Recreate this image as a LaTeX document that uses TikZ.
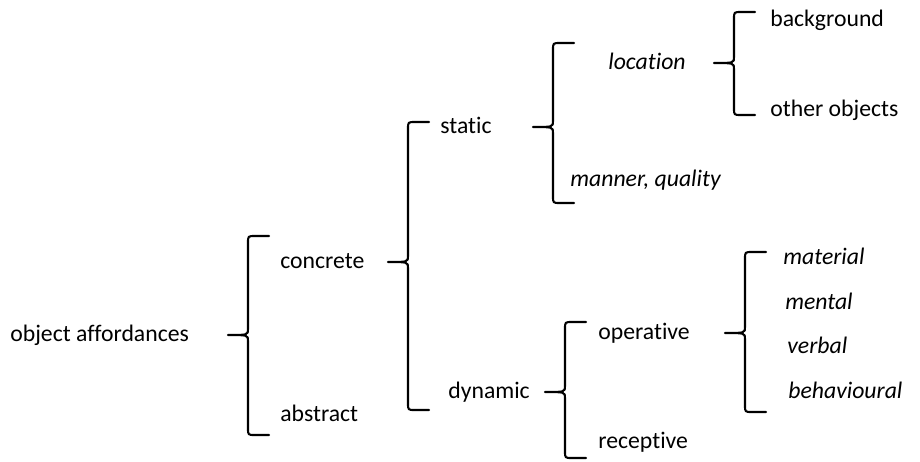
\documentclass[tikz,border=0pt]{standalone}
\usepackage{fontspec}
\setmainfont{Carlito}[Ligatures={NoCommon}]
\usetikzlibrary{positioning}

\tikzset{
  lbl/.style={anchor=base west,inner sep=0pt,font=\fontsize{13.5}{16}\selectfont},
  itl/.style={lbl,font=\fontsize{13.5}{16}\selectfont\itshape},
  brk/.style={line width=1.2pt,line join=round,line cap=round}
}
% left curly bracket: x, top, middle, bottom
\newcommand{\bracegroup}[4]{%
  \draw[brk] (#1+21,#2) -- (#1+7,#2) .. controls (#1,#2) .. (#1,#2+7)
    -- (#1,#3-6) .. controls (#1,#3) .. (#1-20,#3)
    .. controls (#1,#3) .. (#1,#3+6)
    -- (#1,#4-7) .. controls (#1,#4) .. (#1+7,#4) -- (#1+21,#4);
}

\begin{document}
\begin{tikzpicture}[x=0.02cm,y=-0.02cm]
	\useasboundingbox (0,0) rectangle (920,461);
	%% the labels
	\node[lbl] (root) at (10,341) {object affordances};
	\node[lbl] (concrete) at (280,268) {concrete};
	\node[lbl] (abstract) at (280,421) {abstract};
	\node[lbl] (static) at (440,133) {static};
	\node[lbl] (dynamic) at (448,398) {dynamic};
	\node[itl] (location) at (608,69) {location};
	\node[itl] (manner) at (570,186) {manner, quality};
	\node[lbl] (background) at (770,26) {background};
	\node[lbl] (others) at (770,116) {other objects};
	\node[lbl] (operative) at (598,339) {operative};
	\node[lbl] (receptive) at (598,448) {receptive};
	\node[itl] (material) at (783,264) {material};
	\node[itl] (mental) at (785,309) {mental};
	\node[itl] (verbal) at (787,353) {verbal};
	\node[itl] (behav) at (788,398) {behavioural};
	%% the brackets
	\bracegroup{248}{236}{335}{435}
	\bracegroup{408}{122}{262}{410}
	\bracegroup{553}{43}{127}{203}
	\bracegroup{734}{12}{63}{115}
	\bracegroup{565}{322}{392}{458}
	\bracegroup{745}{252}{333}{412}
\end{tikzpicture}
\end{document}
